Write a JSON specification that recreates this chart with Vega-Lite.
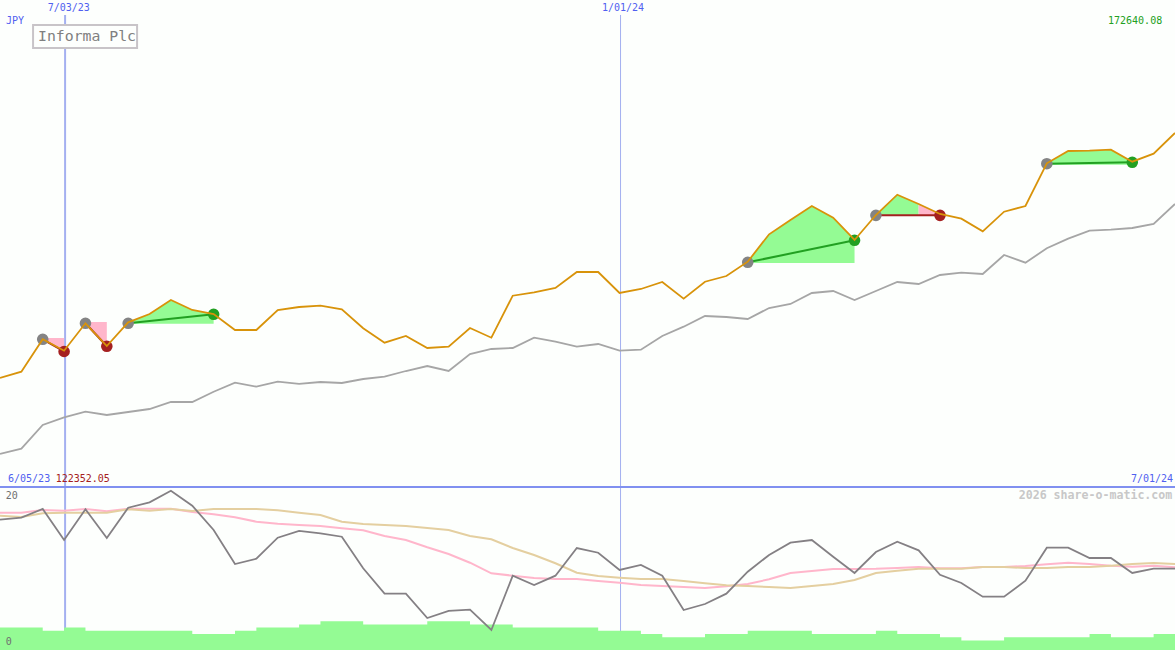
{
  "$schema": "https://vega.github.io/schema/vega-lite/v6.json",
  "width": 1175,
  "height": 650,
  "padding": 0,
  "autosize": {"type": "none"},
  "background": "#fdfffd",
  "config": {"view": {"stroke": null}},
  "datasets": {
    "weeks": [
      {"date":"2023-06-12","close":134258,"average":122352.05,"rsi":16.29,"fast":17.16,"slow":16.79,"volume":7},
      {"date":"2023-06-19","close":135245,"average":123183,"rsi":16.54,"fast":17.16,"slow":16.63,"volume":7},
      {"date":"2023-06-26","close":140321,"average":126895,"rsi":17.63,"fast":17.5,"slow":17.09,"volume":6},
      {"date":"2023-07-03","close":138535,"average":128102,"rsi":13.75,"fast":17.41,"slow":17.16,"volume":7},
      {"date":"2023-07-10","close":142828,"average":128979,"rsi":17.59,"fast":17.63,"slow":17.16,"volume":6},
      {"date":"2023-07-17","close":139272,"average":128462,"rsi":14.0,"fast":17.34,"slow":17.16,"volume":6},
      {"date":"2023-07-24","close":142984,"average":128932,"rsi":17.79,"fast":17.66,"slow":17.59,"volume":6},
      {"date":"2023-07-31","close":144285,"average":129402,"rsi":18.46,"fast":17.66,"slow":17.41,"volume":6},
      {"date":"2023-08-07","close":146478,"average":130499,"rsi":19.91,"fast":17.66,"slow":17.63,"volume":6},
      {"date":"2023-08-14","close":144911,"average":130499,"rsi":18.04,"fast":17.25,"slow":17.38,"volume":5},
      {"date":"2023-08-21","close":144285,"average":132112,"rsi":15.0,"fast":16.96,"slow":17.63,"volume":5},
      {"date":"2023-08-28","close":141778,"average":133522,"rsi":10.75,"fast":16.59,"slow":17.63,"volume":6},
      {"date":"2023-09-04","close":141778,"average":132896,"rsi":11.41,"fast":16.04,"slow":17.63,"volume":7},
      {"date":"2023-09-11","close":144911,"average":133679,"rsi":14.04,"fast":15.79,"slow":17.46,"volume":7},
      {"date":"2023-09-18","close":145381,"average":133350,"rsi":14.88,"fast":15.63,"slow":17.16,"volume":8},
      {"date":"2023-09-25","close":145585,"average":133632,"rsi":14.59,"fast":15.5,"slow":16.88,"volume":9},
      {"date":"2023-10-02","close":145021,"average":133475,"rsi":14.16,"fast":15.21,"slow":16.04,"volume":9},
      {"date":"2023-10-09","close":142045,"average":134102,"rsi":10.21,"fast":14.96,"slow":15.75,"volume":8},
      {"date":"2023-10-16","close":139788,"average":134462,"rsi":7.04,"fast":14.25,"slow":15.63,"volume":8},
      {"date":"2023-10-23","close":140838,"average":135355,"rsi":7.04,"fast":13.75,"slow":15.5,"volume":8},
      {"date":"2023-10-30","close":138958,"average":136138,"rsi":4.0,"fast":12.84,"slow":15.25,"volume":9},
      {"date":"2023-11-06","close":139162,"average":135355,"rsi":4.88,"fast":12.0,"slow":15.0,"volume":9},
      {"date":"2023-11-13","close":142092,"average":138018,"rsi":5.04,"fast":10.91,"slow":14.25,"volume":8},
      {"date":"2023-11-20","close":140572,"average":138802,"rsi":2.5,"fast":9.59,"slow":13.84,"volume":8},
      {"date":"2023-11-27","close":147152,"average":138958,"rsi":9.29,"fast":9.29,"slow":12.75,"volume":7},
      {"date":"2023-12-04","close":147684,"average":140572,"rsi":8.13,"fast":9.0,"slow":11.88,"volume":7},
      {"date":"2023-12-11","close":148358,"average":139945,"rsi":9.29,"fast":8.88,"slow":10.84,"volume":7},
      {"date":"2023-12-18","close":150864,"average":139162,"rsi":12.75,"fast":8.88,"slow":9.66,"volume":7},
      {"date":"2023-12-25","close":150864,"average":139585,"rsi":12.16,"fast":8.63,"slow":9.25,"volume":6},
      {"date":"2024-01-01","close":147575,"average":138535,"rsi":10.0,"fast":8.41,"slow":9.04,"volume":6},
      {"date":"2024-01-08","close":148201,"average":138692,"rsi":10.63,"fast":8.13,"slow":8.88,"volume":5},
      {"date":"2024-01-15","close":149298,"average":140838,"rsi":9.29,"fast":8.0,"slow":8.88,"volume":4},
      {"date":"2024-01-22","close":146682,"average":142295,"rsi":5.0,"fast":7.88,"slow":8.63,"volume":4},
      {"date":"2024-01-29","close":149345,"average":143971,"rsi":5.75,"fast":7.75,"slow":8.34,"volume":5},
      {"date":"2024-02-05","close":150238,"average":143815,"rsi":7.04,"fast":7.96,"slow":8.09,"volume":5},
      {"date":"2024-02-12","close":152478,"average":143501,"rsi":9.79,"fast":8.25,"slow":8.0,"volume":6},
      {"date":"2024-02-19","close":156771,"average":145225,"rsi":11.88,"fast":8.84,"slow":7.88,"volume":6},
      {"date":"2024-02-26","close":159011,"average":145851,"rsi":13.41,"fast":9.63,"slow":7.75,"volume":6},
      {"date":"2024-03-04","close":161204,"average":147575,"rsi":13.75,"fast":9.88,"slow":8.0,"volume":5},
      {"date":"2024-03-11","close":159371,"average":147888,"rsi":11.66,"fast":10.13,"slow":8.25,"volume":5},
      {"date":"2024-03-18","close":155878,"average":146478,"rsi":9.63,"fast":10.13,"slow":8.75,"volume":5},
      {"date":"2024-03-25","close":159794,"average":147888,"rsi":12.25,"fast":10.16,"slow":9.63,"volume":6},
      {"date":"2024-04-01","close":162974,"average":149298,"rsi":13.54,"fast":10.25,"slow":9.91,"volume":5},
      {"date":"2024-04-08","close":161517,"average":148985,"rsi":12.46,"fast":10.38,"slow":10.16,"volume":5},
      {"date":"2024-04-15","close":159951,"average":150394,"rsi":9.41,"fast":10.21,"slow":10.16,"volume":4},
      {"date":"2024-04-22","close":159214,"average":150755,"rsi":8.38,"fast":10.21,"slow":10.16,"volume":3},
      {"date":"2024-04-29","close":157241,"average":150551,"rsi":6.66,"fast":10.38,"slow":10.38,"volume":3},
      {"date":"2024-05-06","close":160311,"average":153528,"rsi":6.66,"fast":10.38,"slow":10.38,"volume":4},
      {"date":"2024-05-13","close":161204,"average":152321,"rsi":8.66,"fast":10.5,"slow":10.25,"volume":4},
      {"date":"2024-05-20","close":167893,"average":154577,"rsi":12.79,"fast":10.71,"slow":10.25,"volume":4},
      {"date":"2024-05-27","close":169820,"average":156081,"rsi":12.79,"fast":10.91,"slow":10.38,"volume":4},
      {"date":"2024-06-03","close":169867,"average":157335,"rsi":11.5,"fast":10.75,"slow":10.38,"volume":5},
      {"date":"2024-06-10","close":170024,"average":157491,"rsi":11.5,"fast":10.54,"slow":10.54,"volume":4},
      {"date":"2024-06-17","close":168144,"average":157758,"rsi":9.63,"fast":10.41,"slow":10.75,"volume":4},
      {"date":"2024-06-24","close":169398,"average":158384,"rsi":10.16,"fast":10.54,"slow":10.88,"volume":5},
      {"date":"2024-07-01","close":172640.08,"average":161517,"rsi":10.16,"fast":10.34,"slow":10.75,"volume":5}
    ],
    "fills": [
      {"trade":"1","tone":"drop","date":"2023-06-26","price":140321,"base":140525},
      {"trade":"1","tone":"drop","date":"2023-07-03","price":138535,"base":140525},
      {"trade":"2","tone":"drop","date":"2023-07-10","price":142828,"base":143031},
      {"trade":"2","tone":"drop","date":"2023-07-17","price":139272,"base":143031},
      {"trade":"3","tone":"gain","date":"2023-07-24","price":142984,"base":142765},
      {"trade":"3","tone":"gain","date":"2023-07-31","price":144285,"base":142765},
      {"trade":"3","tone":"gain","date":"2023-08-07","price":146478,"base":142765},
      {"trade":"3","tone":"gain","date":"2023-08-14","price":144911,"base":142765},
      {"trade":"3","tone":"gain","date":"2023-08-21","price":144285,"base":142765},
      {"trade":"4","tone":"gain","date":"2024-02-12","price":152478,"base":152274},
      {"trade":"4","tone":"gain","date":"2024-02-19","price":156771,"base":152274},
      {"trade":"4","tone":"gain","date":"2024-02-26","price":159011,"base":152274},
      {"trade":"4","tone":"gain","date":"2024-03-04","price":161204,"base":152274},
      {"trade":"4","tone":"gain","date":"2024-03-11","price":159371,"base":152274},
      {"trade":"4","tone":"gain","date":"2024-03-18","price":155878,"base":152274},
      {"trade":"5","tone":"gain","date":"2024-03-25","price":159794,"base":159794},
      {"trade":"5","tone":"gain","date":"2024-04-01","price":162974,"base":159794},
      {"trade":"5","tone":"gain","date":"2024-04-08","price":161517,"base":159794},
      {"trade":"5","tone":"drop","date":"2024-04-08","price":161517,"base":159794},
      {"trade":"5","tone":"drop","date":"2024-04-15","price":159951,"base":159794},
      {"trade":"6","tone":"gain","date":"2024-05-20","price":167893,"base":167674},
      {"trade":"6","tone":"gain","date":"2024-05-27","price":169820,"base":167674},
      {"trade":"6","tone":"gain","date":"2024-06-03","price":169867,"base":167674},
      {"trade":"6","tone":"gain","date":"2024-06-10","price":170024,"base":167674},
      {"trade":"6","tone":"gain","date":"2024-06-17","price":168144,"base":167674}
    ],
    "trades": [
      {"trade":"1","result":"loss","kind":"entry","date":"2023-06-26","price":140321},
      {"trade":"1","result":"loss","kind":"loss","date":"2023-07-03","price":138410},
      {"trade":"2","result":"loss","kind":"entry","date":"2023-07-10","price":142828},
      {"trade":"2","result":"loss","kind":"loss","date":"2023-07-17","price":139225},
      {"trade":"3","result":"win","kind":"entry","date":"2023-07-24","price":142827},
      {"trade":"3","result":"win","kind":"win","date":"2023-08-21","price":144238},
      {"trade":"4","result":"win","kind":"entry","date":"2024-02-12","price":152384},
      {"trade":"4","result":"win","kind":"win","date":"2024-03-18","price":155831},
      {"trade":"5","result":"loss","kind":"entry","date":"2024-03-25","price":159741},
      {"trade":"5","result":"loss","kind":"loss","date":"2024-04-15","price":159741},
      {"trade":"6","result":"win","kind":"entry","date":"2024-05-20","price":167831},
      {"trade":"6","result":"win","kind":"win","date":"2024-06-17","price":168050}
    ],
    "guides": [
      {"date":"2023-07-03","period":"half","from":191126,"to":91646},
      {"date":"2024-01-01","period":"year","from":191126,"to":91646}
    ],
    "notes": [
      {"label":"7/03/23","tone":"blue","date":"2023-06-27T15:00:00Z","price":192222},
      {"label":"1/01/24","tone":"blue","date":"2023-12-26T06:00:00Z","price":192222},
      {"label":"JPY","tone":"blue","date":"2023-06-13T23:00:00Z","price":190186},
      {"label":"172640.08","tone":"green","date":"2024-06-09T01:00:00Z","price":190186},
      {"label":"6/05/23","tone":"blue","date":"2023-06-14T15:00:00Z","price":118436},
      {"label":"122352.05","tone":"red","date":"2023-06-30T06:00:00Z","price":118436},
      {"label":"7/01/24","tone":"blue","date":"2024-06-16T14:00:00Z","price":118436}
    ]
  },
  "encoding": {
    "x": {
      "field": "date",
      "type": "temporal",
      "axis": null,
      "scale": {"type": "utc", "domain": ["2023-06-12", "2024-07-01"], "range": [0, 1175]}
    }
  },
  "layer": [
    {
      "layer": [
        {
          "data": {"name": "guides"},
          "mark": {"type": "rule", "color": "#a4b0f0", "xOffset": 1},
          "encoding": {
            "y": {"field": "from", "type": "quantitative", "axis": null, "scale": {"domain": [117182.3, 193475.7], "range": [487, 0]}},
            "y2": {"field": "to"},
            "strokeWidth": {"field": "period", "type": "nominal", "legend": null, "scale": {"domain": ["half", "year"], "range": [2, 1]}}
          }
        },
        {
          "data": {"values": [{"start": "2023-06-12", "end": "2024-07-01", "price": 117182.3}]},
          "mark": {"type": "rule", "color": "#8090f0", "strokeWidth": 2},
          "encoding": {
            "x": {"field": "start", "type": "temporal"},
            "x2": {"field": "end"},
            "y": {"field": "price", "type": "quantitative", "axis": null, "scale": {"domain": [117182.3, 193475.7], "range": [487, 0]}}
          }
        },
        {
          "data": {"name": "fills"},
          "mark": {"type": "area"},
          "encoding": {
            "y": {"field": "price", "type": "quantitative", "axis": null, "stack": null, "scale": {"domain": [117182.3, 193475.7], "range": [487, 0]}},
            "y2": {"field": "base"},
            "detail": {"field": "trade"},
            "color": {"field": "tone", "type": "nominal", "legend": null, "scale": {"domain": ["gain", "drop"], "range": ["#94fb94", "#ffb6cb"]}}
          }
        },
        {
          "data": {"name": "weeks"},
          "mark": {"type": "line", "color": "#a6a6a6", "strokeWidth": 1.8},
          "encoding": {
            "y": {"field": "average", "type": "quantitative", "axis": null, "scale": {"domain": [117182.3, 193475.7], "range": [487, 0]}}
          }
        },
        {
          "data": {"name": "trades"},
          "mark": {"type": "line", "strokeWidth": 2},
          "encoding": {
            "y": {"field": "price", "type": "quantitative", "axis": null, "scale": {"domain": [117182.3, 193475.7], "range": [487, 0]}},
            "detail": {"field": "trade"},
            "color": {"field": "result", "type": "nominal", "legend": null, "scale": {"domain": ["win", "loss"], "range": ["#22a022", "#a52020"]}}
          }
        },
        {
          "data": {"name": "trades"},
          "mark": {"type": "point", "filled": true, "opacity": 1, "size": 135},
          "encoding": {
            "y": {"field": "price", "type": "quantitative", "axis": null, "scale": {"domain": [117182.3, 193475.7], "range": [487, 0]}},
            "color": {"field": "kind", "type": "nominal", "legend": null, "scale": {"domain": ["entry", "win", "loss"], "range": ["#848484", "#22a022", "#a52020"]}}
          }
        },
        {
          "data": {"name": "weeks"},
          "mark": {"type": "line", "color": "#d8930a", "strokeWidth": 1.8},
          "encoding": {
            "y": {"field": "close", "type": "quantitative", "axis": null, "scale": {"domain": [117182.3, 193475.7], "range": [487, 0]}}
          }
        },
        {
          "data": {"values": [{"left": "2023-06-22T20:00:00Z", "right": "2023-07-26T22:00:00Z", "top": 189559, "bottom": 185956}]},
          "mark": {"type": "rect", "fill": "#fdfffd", "stroke": "#c8c4c8", "strokeWidth": 2},
          "encoding": {
            "x": {"field": "left", "type": "temporal"},
            "x2": {"field": "right"},
            "y": {"field": "top", "type": "quantitative", "axis": null, "scale": {"domain": [117182.3, 193475.7], "range": [487, 0]}},
            "y2": {"field": "bottom"}
          }
        },
        {
          "data": {"values": [{"price": 187679, "start": "2023-06-24T11:00:00Z", "name": "Informa Plc"}]},
          "mark": {"type": "text", "align": "left", "baseline": "middle", "font": "DejaVu Sans Mono", "fontSize": 14.8, "color": "#808080"},
          "encoding": {
            "x": {"field": "start", "type": "temporal"},
            "y": {"field": "price", "type": "quantitative", "axis": null, "scale": {"domain": [117182.3, 193475.7], "range": [487, 0]}},
            "text": {"field": "name"}
          }
        },
        {
          "data": {"name": "notes"},
          "mark": {"type": "text", "align": "left", "baseline": "middle", "font": "DejaVu Sans Mono", "fontSize": 10},
          "encoding": {
            "y": {"field": "price", "type": "quantitative", "axis": null, "scale": {"domain": [117182.3, 193475.7], "range": [487, 0]}},
            "text": {"field": "label"},
            "color": {"field": "tone", "type": "nominal", "legend": null, "scale": {"domain": ["blue", "green", "red"], "range": ["#5060f0", "#22a022", "#a52020"]}}
          }
        }
      ],
      "resolve": {"scale": {"color": "independent"}}
    },
    {
      "data": {"name": "weeks"},
      "mark": {"type": "area", "interpolate": "step-after", "color": "#94fb94"},
      "encoding": {
        "y": {"field": "volume", "type": "quantitative", "axis": null, "stack": null, "scale": {"domain": [0, 50.94], "range": [650, 487]}}
      }
    },
    {
      "layer": [
        {
          "data": {"name": "weeks"},
          "mark": {"type": "line", "color": "#ffb6cb", "strokeWidth": 2},
          "encoding": {
            "y": {"field": "fast", "type": "quantitative", "axis": null, "scale": {"domain": [0, 20.375], "range": [650, 487]}}
          }
        },
        {
          "data": {"name": "weeks"},
          "mark": {"type": "line", "color": "#e4cfa0", "strokeWidth": 2},
          "encoding": {
            "y": {"field": "slow", "type": "quantitative", "axis": null, "scale": {"domain": [0, 20.375], "range": [650, 487]}}
          }
        },
        {
          "data": {"name": "weeks"},
          "mark": {"type": "line", "color": "#848084", "strokeWidth": 1.8},
          "encoding": {
            "y": {"field": "rsi", "type": "quantitative", "axis": null, "scale": {"domain": [0, 20.375], "range": [650, 487]}}
          }
        },
        {
          "data": {"values": [
            {"label": "20", "date": "2023-06-13T21:00:00Z", "level": 19.25},
            {"label": "0", "date": "2023-06-13T21:00:00Z", "level": 1}
          ]},
          "mark": {"type": "text", "align": "left", "baseline": "middle", "font": "DejaVu Sans Mono", "fontSize": 10, "color": "#707070"},
          "encoding": {
            "y": {"field": "level", "type": "quantitative", "axis": null, "scale": {"domain": [0, 20.375], "range": [650, 487]}},
            "text": {"field": "label"}
          }
        },
        {
          "data": {"values": [{"label": "2026 share-o-matic.com", "date": "2024-05-10T19:00:00Z", "level": 19.25}]},
          "mark": {"type": "text", "align": "left", "baseline": "middle", "font": "DejaVu Sans Mono", "fontSize": 11.6, "fontWeight": "bold", "color": "#c8c8c8"},
          "encoding": {
            "y": {"field": "level", "type": "quantitative", "axis": null, "scale": {"domain": [0, 20.375], "range": [650, 487]}},
            "text": {"field": "label"}
          }
        }
      ]
    }
  ],
  "resolve": {"scale": {"y": "independent", "color": "independent"}}
}
